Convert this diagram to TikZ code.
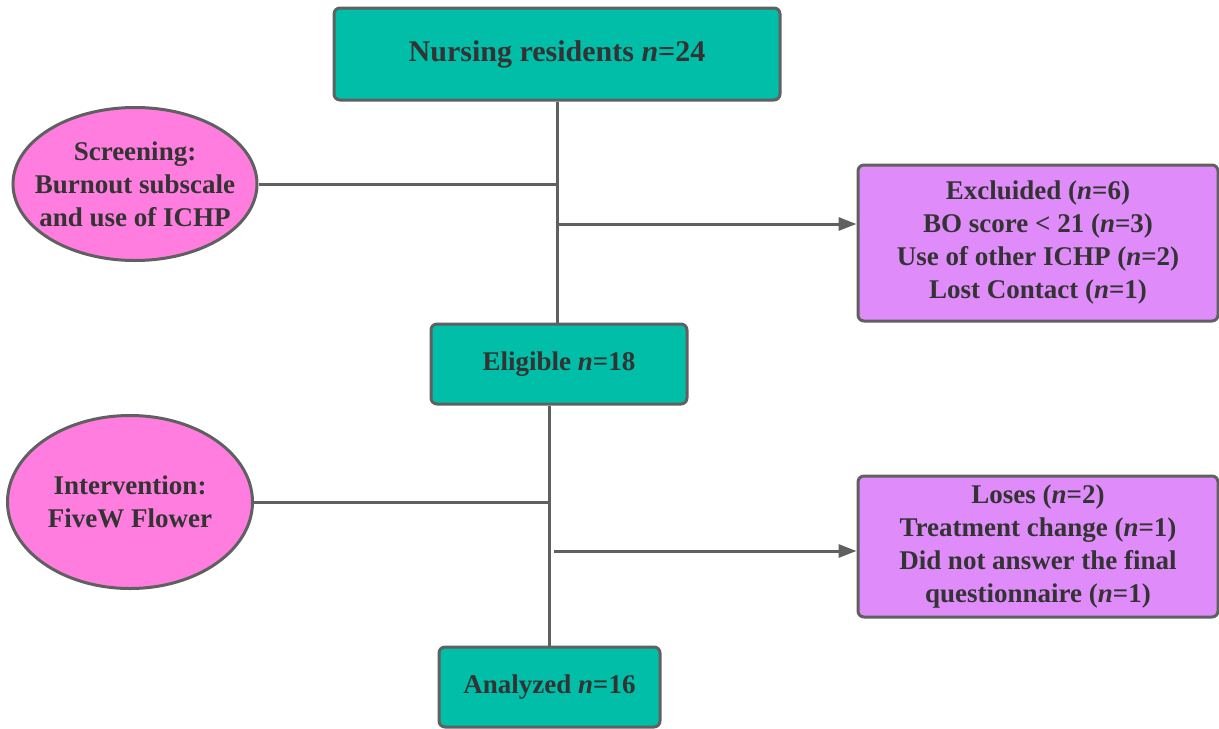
\documentclass[tikz,border=0pt]{standalone}
\usepackage{fontspec}
\setmainfont{Liberation Serif}
\usetikzlibrary{positioning, shapes.geometric, arrows.meta}
\definecolor{tealfill}{RGB}{0,190,168}
\definecolor{pinkfill}{RGB}{255,125,222}
\definecolor{violetfill}{RGB}{223,139,249}
\definecolor{edgegray}{RGB}{96,96,96}
\definecolor{textgray}{RGB}{51,51,51}
\newcommand{\nn}{\textit{n}}

\begin{document}
\begin{tikzpicture}[x=0.5pt, y=-0.5pt, >={Triangle[length=9pt,width=6.5pt]},
  every node/.style={font=\fontsize{13.5}{16.5}\selectfont\bfseries, text=textgray, align=center},
  greenbox/.style={draw=edgegray, line width=1.5pt, fill=tealfill, rounded corners=3pt},
  pinkoval/.style={ellipse, draw=edgegray, line width=1.5pt, fill=pinkfill, inner sep=-8pt},
  violetbox/.style={draw=edgegray, line width=1.5pt, fill=violetfill, rounded corners=3pt},
  link/.style={draw=edgegray, line width=1.5pt}]
\useasboundingbox (0,0) rectangle (1219,728);

\node[greenbox, minimum width=223pt, minimum height=46pt, font=\fontsize{15}{18}\selectfont\bfseries] (resid) at (557,54) {Nursing residents \nn=24};
\node[greenbox, minimum width=128pt, minimum height=40pt] (elig) at (559,364) {Eligible \nn=18};
\node[greenbox, minimum width=110.5pt, minimum height=40pt] (anal) at (549.5,687) {Analyzed \nn=16};

\node[pinkoval, minimum width=122pt, minimum height=76.5pt] (screen) at (135,184) {Screening:\\ Burnout subscale\\ and use of ICHP};
\node[pinkoval, minimum width=122.5pt, minimum height=86.5pt] (interv) at (130,502) {Intervention:\\ FiveW Flower};

\node[violetbox, minimum width=180pt, minimum height=78pt] (excl) at (1038,243) {Excluided (\nn=6)\\ BO score < 21 (\nn=3)\\ Use of other ICHP (\nn=2)\\ Lost Contact (\nn=1)};
\node[violetbox, minimum width=180pt, minimum height=70.5pt] (loses) at (1038,546.5) {Loses (\nn=2)\\ Treatment change (\nn=1)\\ Did not answer the final\\ questionnaire (\nn=1)};

% first stage
\coordinate (out1) at (557,224);
\draw[link] (resid.south) -- (resid.south |- elig.north);
\draw[link] (screen.east) -- (resid.south |- screen.east);
\draw[link, ->, fill=edgegray] (out1) -- (excl.west |- out1);

% second stage
\coordinate (out2) at (554,551);
\draw[link] (elig.south -| anal.north) -- (anal.north);
\draw[link] (interv.east) -- (anal.north |- interv.east);
\draw[link, ->, fill=edgegray] (out2) -- (loses.west |- out2);

\end{tikzpicture}
\end{document}
